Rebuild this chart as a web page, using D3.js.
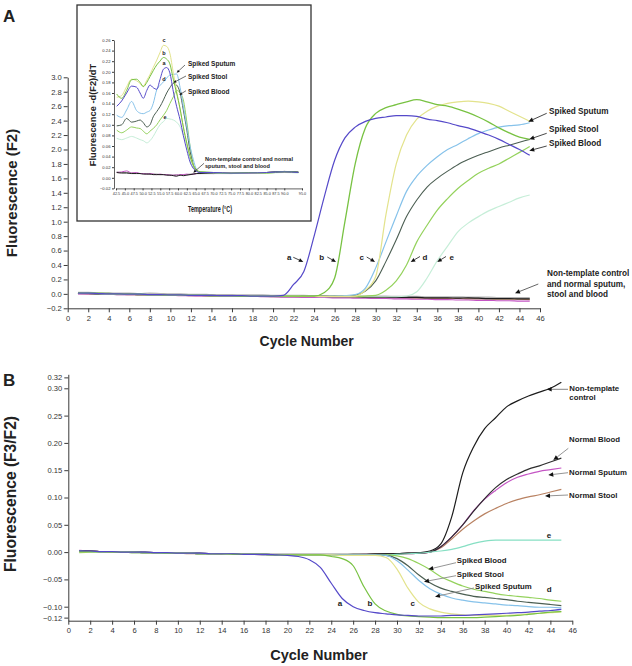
<!DOCTYPE html>
<html><head><meta charset="utf-8">
<script src="https://cdn.jsdelivr.net/npm/d3@7"></script>
<style>
html,body{margin:0;padding:0;background:#fff;}
svg{display:block;font-family:"Liberation Sans",Arial,Helvetica,sans-serif;}
</style></head><body>
<svg id="chart" width="632" height="666"></svg>
<script>
// ---------------- DATA ----------------
const cycles = [1,2,3,4,5,6,7,8,9,10,11,12,13,14,15,16,17,18,19,20,21,22,23,24,25,26,27,28,29,30,31,32,33,34,35,36,37,38,39,40,41,42,43,44,45];

// Panel A: Fluorescence (F2)
const aF2_ntc     = [0.005,0.005,0.0,0.0,-0.005,-0.005,-0.01,-0.01,-0.01,-0.015,-0.015,-0.02,-0.02,-0.02,-0.025,-0.025,-0.025,-0.03,-0.03,-0.03,-0.03,-0.035,-0.035,-0.035,-0.035,-0.04,-0.04,-0.04,-0.045,-0.045,-0.045,-0.05,-0.05,-0.05,-0.055,-0.055,-0.055,-0.06,-0.055,-0.06,-0.065,-0.065,-0.065,-0.07,-0.07];
const aF2_nBlood  = [0.01,0.01,0.005,0.005,0.0,0.0,-0.005,0.0,-0.005,-0.01,-0.01,-0.015,-0.015,-0.02,-0.02,-0.02,-0.025,-0.025,-0.025,-0.03,-0.03,-0.03,-0.03,-0.035,-0.035,-0.035,-0.035,-0.04,-0.04,-0.04,-0.04,-0.045,-0.045,-0.045,-0.05,-0.05,-0.05,-0.05,-0.055,-0.055,-0.055,-0.06,-0.06,-0.06,-0.06];
const aF2_nSputum = [0.0,0.0,-0.005,-0.005,-0.01,-0.01,-0.015,-0.015,-0.02,-0.02,-0.025,-0.025,-0.03,-0.03,-0.03,-0.035,-0.035,-0.035,-0.04,-0.04,-0.045,-0.045,-0.05,-0.05,-0.05,-0.055,-0.055,-0.06,-0.06,-0.065,-0.065,-0.07,-0.07,-0.075,-0.075,-0.08,-0.08,-0.085,-0.085,-0.09,-0.09,-0.095,-0.095,-0.1,-0.1];
const aF2_nStool  = [0.005,0.0,0.0,-0.005,-0.005,-0.01,-0.01,-0.015,-0.015,-0.02,-0.02,-0.025,-0.025,-0.03,-0.03,-0.03,-0.035,-0.035,-0.035,-0.04,-0.04,-0.04,-0.045,-0.045,-0.045,-0.05,-0.05,-0.05,-0.05,-0.055,-0.055,-0.055,-0.06,-0.06,-0.06,-0.065,-0.065,-0.065,-0.07,-0.07,-0.07,-0.075,-0.075,-0.075,-0.08];
const aF2_a  = [0.01,0.01,0.005,0,0,-0.005,-0.005,-0.01,-0.01,-0.015,-0.015,-0.02,-0.02,-0.02,-0.025,-0.025,-0.025,-0.03,-0.03,-0.03,-0.02,0.13,0.31,0.8,1.35,1.85,2.16,2.31,2.39,2.43,2.45,2.47,2.47,2.46,2.42,2.40,2.37,2.33,2.3,2.25,2.2,2.14,2.07,2.0,1.92];
const aF2_b  = [0.015,0.01,0.01,0.005,0,0,-0.005,-0.01,-0.01,-0.015,-0.015,-0.02,-0.02,-0.025,-0.025,-0.025,-0.03,-0.03,-0.03,-0.03,-0.03,-0.03,-0.03,-0.03,0.02,0.22,1.0,1.8,2.3,2.5,2.58,2.62,2.66,2.69,2.66,2.62,2.6,2.56,2.51,2.45,2.38,2.3,2.23,2.17,2.14];
const aF2_c  = [0.01,0.005,0.005,0,0,-0.005,-0.01,-0.01,-0.01,-0.015,-0.015,-0.02,-0.02,-0.02,-0.025,-0.025,-0.025,-0.03,-0.03,-0.03,-0.03,-0.03,-0.035,-0.035,-0.035,-0.035,-0.035,-0.03,0.05,0.24,1.1,1.8,2.2,2.42,2.53,2.6,2.64,2.66,2.67,2.66,2.64,2.6,2.53,2.46,2.39];
const aF2_sputum = [0.01,0.01,0.005,0,0,-0.005,-0.005,-0.01,-0.01,-0.015,-0.015,-0.02,-0.02,-0.02,-0.025,-0.025,-0.025,-0.03,-0.03,-0.03,-0.03,-0.03,-0.035,-0.035,-0.035,-0.03,-0.025,-0.01,0.08,0.36,0.72,1.08,1.42,1.63,1.78,1.9,2.0,2.07,2.15,2.22,2.27,2.31,2.33,2.34,2.37];
const aF2_stool  = [0.005,0.005,0,0,-0.005,-0.005,-0.01,-0.01,-0.015,-0.015,-0.02,-0.02,-0.02,-0.025,-0.025,-0.025,-0.03,-0.03,-0.03,-0.03,-0.035,-0.035,-0.035,-0.035,-0.035,-0.03,-0.03,-0.02,0.04,0.18,0.45,0.75,1.07,1.3,1.48,1.6,1.7,1.79,1.86,1.92,1.97,2.02,2.06,2.1,2.14];
const aF2_blood  = [0.01,0.01,0.005,0.005,0,0,-0.005,-0.01,-0.01,-0.015,-0.015,-0.02,-0.02,-0.025,-0.025,-0.025,-0.03,-0.03,-0.03,-0.03,-0.03,-0.035,-0.035,-0.035,-0.035,-0.035,-0.035,-0.035,-0.03,-0.02,0.05,0.18,0.4,0.72,0.95,1.16,1.32,1.46,1.57,1.67,1.74,1.8,1.88,1.96,2.04];
const aF2_e  = [0.005,0.005,0,0,-0.005,-0.005,-0.01,-0.01,-0.015,-0.015,-0.02,-0.02,-0.02,-0.025,-0.025,-0.025,-0.03,-0.03,-0.03,-0.03,-0.035,-0.035,-0.035,-0.035,-0.04,-0.04,-0.04,-0.04,-0.04,-0.04,-0.04,-0.04,-0.03,0.03,0.22,0.46,0.66,0.86,0.98,1.07,1.15,1.21,1.27,1.33,1.37];

// Panel B: Fluorescence (F3/F2)
const bR_ntc     = [0.002,0.002,0.001,0.001,0,0,0,-0.001,-0.001,-0.002,-0.002,-0.002,-0.003,-0.003,-0.003,-0.004,-0.004,-0.004,-0.004,-0.004,-0.004,-0.004,-0.004,-0.004,-0.004,-0.004,-0.004,-0.003,-0.003,-0.003,-0.002,-0.001,0.002,0.015,0.065,0.145,0.193,0.226,0.246,0.266,0.277,0.286,0.293,0.3,0.311];
const bR_nBlood  = [0.002,0.001,0.001,0.0,0,0,-0.001,-0.001,-0.001,-0.002,-0.002,-0.003,-0.003,-0.003,-0.004,-0.004,-0.004,-0.004,-0.005,-0.005,-0.005,-0.005,-0.005,-0.005,-0.005,-0.004,-0.004,-0.004,-0.003,-0.003,-0.002,-0.002,0.0,0.01,0.028,0.05,0.075,0.098,0.118,0.133,0.143,0.152,0.158,0.165,0.172];
const bR_nSputum = [0.003,0.002,0.001,0.001,0,0,-0.001,-0.001,-0.002,-0.002,-0.002,-0.003,-0.003,-0.003,-0.004,-0.004,-0.004,-0.005,-0.005,-0.005,-0.005,-0.005,-0.005,-0.005,-0.005,-0.005,-0.004,-0.004,-0.004,-0.003,-0.003,-0.002,0.0,0.01,0.028,0.05,0.076,0.097,0.113,0.127,0.137,0.143,0.148,0.151,0.154];
const bR_nStool  = [0.002,0.002,0.001,0.0,0,-0.001,-0.001,-0.001,-0.002,-0.002,-0.003,-0.003,-0.003,-0.004,-0.004,-0.004,-0.004,-0.005,-0.005,-0.005,-0.005,-0.005,-0.005,-0.005,-0.005,-0.005,-0.005,-0.004,-0.004,-0.004,-0.003,-0.002,0.0,0.008,0.024,0.042,0.057,0.07,0.08,0.089,0.096,0.101,0.105,0.11,0.115];
const bR_e       = [0.001,0.001,0.0,0.0,0,-0.001,-0.001,-0.001,-0.002,-0.002,-0.002,-0.003,-0.003,-0.003,-0.004,-0.004,-0.004,-0.005,-0.005,-0.005,-0.005,-0.005,-0.005,-0.006,-0.006,-0.006,-0.006,-0.005,-0.005,-0.004,-0.003,-0.002,0.0,0.002,0.005,0.01,0.016,0.02,0.022,0.022,0.022,0.022,0.022,0.022,0.022];
const bR_a  = [0.002,0.002,0.001,0.001,0,0,0,-0.001,-0.001,-0.002,-0.002,-0.002,-0.003,-0.003,-0.003,-0.004,-0.004,-0.004,-0.005,-0.006,-0.008,-0.014,-0.028,-0.057,-0.085,-0.1,-0.107,-0.111,-0.113,-0.115,-0.116,-0.117,-0.117,-0.117,-0.116,-0.116,-0.115,-0.114,-0.113,-0.112,-0.111,-0.11,-0.108,-0.107,-0.105];
const bR_b  = [0.001,0.001,0.001,0.0,0,0,-0.001,-0.001,-0.002,-0.002,-0.002,-0.003,-0.003,-0.003,-0.004,-0.004,-0.004,-0.004,-0.005,-0.005,-0.005,-0.005,-0.005,-0.008,-0.012,-0.025,-0.064,-0.095,-0.108,-0.114,-0.117,-0.118,-0.119,-0.12,-0.12,-0.12,-0.12,-0.119,-0.118,-0.117,-0.116,-0.114,-0.112,-0.11,-0.109];
const bR_c  = [0.001,0.001,0.001,0.0,0,0,-0.001,-0.001,-0.001,-0.002,-0.002,-0.003,-0.003,-0.003,-0.004,-0.004,-0.004,-0.004,-0.005,-0.005,-0.005,-0.005,-0.005,-0.005,-0.006,-0.006,-0.006,-0.006,-0.01,-0.031,-0.066,-0.092,-0.104,-0.11,-0.113,-0.115,-0.116,-0.116,-0.116,-0.116,-0.115,-0.113,-0.112,-0.111,-0.109];
const bR_sputum = [0.002,0.001,0.001,0.0,0,0,-0.001,-0.001,-0.002,-0.002,-0.002,-0.003,-0.003,-0.003,-0.004,-0.004,-0.004,-0.004,-0.005,-0.005,-0.005,-0.005,-0.005,-0.005,-0.005,-0.005,-0.005,-0.005,-0.006,-0.016,-0.033,-0.052,-0.067,-0.077,-0.084,-0.088,-0.091,-0.093,-0.095,-0.097,-0.098,-0.1,-0.101,-0.101,-0.102];
const bR_stool  = [0.002,0.002,0.001,0.0,0,0,-0.001,-0.001,-0.001,-0.002,-0.002,-0.003,-0.003,-0.003,-0.003,-0.004,-0.004,-0.004,-0.005,-0.005,-0.005,-0.005,-0.005,-0.005,-0.005,-0.005,-0.005,-0.005,-0.006,-0.012,-0.025,-0.042,-0.056,-0.066,-0.072,-0.077,-0.081,-0.083,-0.085,-0.087,-0.09,-0.092,-0.094,-0.096,-0.098];
const bR_blood  = [-0.001,0.0,0.0,0.0,0,-0.001,-0.001,-0.001,-0.002,-0.002,-0.002,-0.003,-0.003,-0.003,-0.004,-0.004,-0.004,-0.004,-0.005,-0.005,-0.005,-0.005,-0.005,-0.005,-0.005,-0.005,-0.005,-0.005,-0.005,-0.007,-0.012,-0.021,-0.032,-0.045,-0.054,-0.062,-0.068,-0.072,-0.076,-0.079,-0.081,-0.083,-0.085,-0.088,-0.09];

// Inset: melting curves -d(F2)/dT
const tempsI = [42.7,44.1,45.5,46.9,48.3,49.3,50.2,51.2,52.1,53.0,54.0,54.9,55.9,56.8,57.7,58.7,59.6,60.6,61.5,62.5,63.4,64.3,65.3,66.2,70,75,80,85,90,94];
const mI_b  = [0.158,0.150,0.165,0.185,0.186,0.180,0.172,0.180,0.191,0.202,0.213,0.220,0.227,0.224,0.215,0.185,0.160,0.130,0.096,0.065,0.040,0.024,0.015,0.0115,0.010,0.009,0.010,0.009,0.011,0.010];
const mI_c  = [0.152,0.155,0.172,0.186,0.183,0.178,0.173,0.184,0.195,0.208,0.222,0.236,0.250,0.248,0.235,0.197,0.165,0.128,0.096,0.065,0.042,0.024,0.014,0.011,0.010,0.010,0.009,0.010,0.010,0.010];
const mI_a  = [0.135,0.145,0.160,0.173,0.171,0.160,0.150,0.165,0.175,0.170,0.167,0.185,0.205,0.208,0.198,0.162,0.135,0.109,0.080,0.052,0.030,0.018,0.012,0.010,0.010,0.009,0.009,0.010,0.011,0.010];
const mI_sputum = [0.118,0.114,0.128,0.144,0.127,0.122,0.121,0.124,0.127,0.140,0.166,0.174,0.181,0.188,0.194,0.195,0.196,0.170,0.135,0.096,0.060,0.035,0.015,0.011,0.010,0.009,0.010,0.010,0.011,0.010];
const mI_stool  = [0.098,0.100,0.112,0.105,0.107,0.109,0.104,0.096,0.100,0.115,0.125,0.134,0.147,0.160,0.170,0.178,0.175,0.160,0.128,0.090,0.050,0.024,0.013,0.010,0.010,0.009,0.010,0.010,0.012,0.011];
const mI_blood  = [0.090,0.085,0.090,0.096,0.094,0.093,0.088,0.083,0.088,0.093,0.100,0.109,0.118,0.127,0.140,0.153,0.165,0.160,0.147,0.105,0.060,0.027,0.014,0.011,0.010,0.009,0.010,0.009,0.011,0.010];
const mI_e  = [0.0745,0.072,0.075,0.078,0.075,0.072,0.070,0.066,0.070,0.078,0.090,0.100,0.106,0.112,0.111,0.109,0.105,0.096,0.080,0.062,0.033,0.020,0.013,0.010,0.009,0.008,0.009,0.009,0.010,0.009];
const mI_ntc    = [0.010,0.009,0.009,0.008,0.008,0.008,0.007,0.007,0.007,0.006,0.006,0.006,0.006,0.005,0.005,0.004,0.003,0.005,0.004,0.005,0.006,0.007,0.008,0.008,0.008,0.009,0.009,0.010,0.012,0.010];
const mI_nSputum= [0.010,0.011,0.013,0.009,0.010,0.008,0.008,0.007,0.008,0.007,0.006,0.007,0.006,0.006,0.005,0.005,0.005,0.006,0.006,0.007,0.006,0.007,0.008,0.009,0.008,0.008,0.009,0.010,0.011,0.010];
const mI_nBlood = [0.011,0.010,0.010,0.009,0.009,0.008,0.008,0.008,0.007,0.007,0.007,0.006,0.006,0.006,0.005,0.005,0.006,0.005,0.006,0.006,0.007,0.007,0.008,0.008,0.009,0.009,0.009,0.010,0.011,0.011];

// Tick labels
const xTicksCycle = [0,2,4,6,8,10,12,14,16,18,20,22,24,26,28,30,32,34,36,38,40,42,44,46];
const yTicksA = [-0.2,0.0,0.2,0.4,0.6,0.8,1.0,1.2,1.4,1.6,1.8,2.0,2.2,2.4,2.6,2.8,3.0];
const yTicksB = [-0.12,-0.10,-0.05,0.00,0.05,0.10,0.15,0.20,0.25,0.30,0.32];
const yTicksI = [-0.02,0.00,0.02,0.04,0.06,0.08,0.10,0.12,0.14,0.16,0.18,0.20,0.22,0.24,0.26];
const xTicksI = [42.5,45,47.5,50,52.5,55,57.5,60,62.5,65,67.5,70,72.5,75,77.5,80,82.5,85,87.5,90,95];

// ---------------- STYLE ----------------
const C = {
  a:"#5549c9", b:"#78c242", c:"#e3e38c", sputum:"#86c2ea", stool:"#4b5e52",
  blood:"#94d25c", eA:"#c6eed8", eB:"#86dfc3", ntc:"#1c1c1c", nBloodA:"#b4b4b4",
  nBloodB:"#2e2e2e", nSputum:"#c455c4", nStool:"#b98262"
};
const txt = "#222", axisCol = "#3a3a3a";

const svg = d3.select("#chart");

// ---------------- SCALES ----------------
const xA = d3.scaleLinear().domain([0,46]).range([67.7,540]);
const yA = d3.scaleLinear().domain([-0.2,3.0]).range([308.3,77.3]);
const xB = d3.scaleLinear().domain([0,46]).range([68.3,572.3]);
const yB = d3.scaleLinear().domain([-0.10,0.30]).range([606.7,388.3]);
yB.domain([yB.invert(620.7), yB.invert(374.3)]).range([620.7,374.3]);
const xI = d3.scaleLinear().domain([42.5,95]).range([116,302]);
const yI = d3.scaleLinear().domain([-0.02,0.26]).range([188.4,40]);

function styleAxis(g, fs){
  g.select(".domain").attr("stroke",axisCol).attr("stroke-width",1);
  g.selectAll(".tick line").attr("stroke",axisCol);
  g.selectAll(".tick text").attr("fill","#333").style("font-size",fs+"px").style("font-family","'Liberation Sans',Arial,sans-serif");
}

// ---------------- PANEL A ----------------
const gA = svg.append("g");
gA.append("g").attr("transform",`translate(0,${yA(-0.2)})`)
  .call(d3.axisBottom(xA).tickValues(xTicksCycle).tickSize(4).tickSizeOuter(0).tickPadding(3).tickFormat(d3.format("d")))
  .call(g=>styleAxis(g,7.6));
gA.append("g").attr("transform",`translate(${xA(0)},0)`)
  .call(d3.axisLeft(yA).tickValues(yTicksA).tickSize(4).tickSizeOuter(0).tickPadding(2).tickFormat(d3.format(".1f")))
  .call(g=>styleAxis(g,7.6));

const lineA = d3.line().x((d,i)=>xA(cycles[i])).y(d=>yA(d)).curve(d3.curveMonotoneX);
const seriesA = [
  {v:aF2_nBlood, c:C.nBloodA, w:2.6},
  {v:aF2_nStool, c:C.nStool, w:1.1},
  {v:aF2_nSputum, c:C.nSputum, w:1.1},
  {v:aF2_ntc, c:C.ntc, w:1.2},
  {v:aF2_e, c:C.eA, w:1.2},
  {v:aF2_blood, c:C.blood, w:1.2},
  {v:aF2_stool, c:C.stool, w:1.1},
  {v:aF2_sputum, c:C.sputum, w:1.2},
  {v:aF2_c, c:C.c, w:1.2},
  {v:aF2_b, c:C.b, w:1.3},
  {v:aF2_a, c:C.a, w:1.2}
];
gA.selectAll("path.sa").data(seriesA).join("path").attr("class","sa")
  .attr("d",d=>lineA(d.v)).attr("fill","none").attr("stroke",d=>d.c).attr("stroke-width",d=>d.w);

// ---------------- INSET ----------------
const gI = svg.append("g");
gI.append("rect").attr("x",77).attr("y",5).attr("width",234).attr("height",216)
  .attr("fill","#fff").attr("stroke","#333").attr("stroke-width",1.3);
gI.append("g").attr("transform",`translate(0,${yI(-0.02)})`)
  .call(d3.axisBottom(xI).tickValues(xTicksI).tickSize(2).tickSizeOuter(0).tickPadding(1.5).tickFormat(d3.format(".1f")))
  .call(g=>styleAxis(g,3.8));
gI.append("g").attr("transform",`translate(${xI(42.5)-2},0)`)
  .call(d3.axisLeft(yI).tickValues(yTicksI).tickSize(2).tickSizeOuter(0).tickPadding(1.5).tickFormat(d3.format(".2f")))
  .call(g=>styleAxis(g,4.2));
gI.selectAll("path.domain").attr("stroke-width",0.8);
const lineI = d3.line().x((d,i)=>xI(tempsI[i])).y(d=>yI(d)).curve(d3.curveMonotoneX);
const seriesI = [
  {v:mI_nBlood, c:"#9a9a9a"}, {v:mI_nSputum, c:C.nSputum}, {v:mI_ntc, c:C.ntc},
  {v:mI_e, c:C.eA}, {v:mI_blood, c:C.blood}, {v:mI_stool, c:C.stool},
  {v:mI_sputum, c:C.sputum}, {v:mI_c, c:C.c}, {v:mI_b, c:C.b}, {v:mI_a, c:C.a}
];
gI.selectAll("path.si").data(seriesI).join("path").attr("class","si")
  .attr("d",d=>lineI(d.v)).attr("fill","none").attr("stroke",d=>d.c).attr("stroke-width",1);

// ---------------- PANEL B ----------------
const gB = svg.append("g");
gB.append("g").attr("transform",`translate(0,${yB.range()[0]})`)
  .call(d3.axisBottom(xB).tickValues(xTicksCycle).tickSize(4).tickSizeOuter(0).tickPadding(3).tickFormat(d3.format("d")))
  .call(g=>styleAxis(g,7.6));
gB.append("g").attr("transform",`translate(${xB(0)},0)`)
  .call(d3.axisLeft(yB).tickValues(yTicksB).tickSize(4).tickSizeOuter(0).tickPadding(2).tickFormat(d3.format(".2f")))
  .call(g=>styleAxis(g,7.6));
const lineB = d3.line().x((d,i)=>xB(cycles[i])).y(d=>yB(d)).curve(d3.curveMonotoneX);
const seriesB = [
  {v:bR_nStool, c:C.nStool}, {v:bR_nSputum, c:C.nSputum}, {v:bR_nBlood, c:C.nBloodB},
  {v:bR_ntc, c:C.ntc}, {v:bR_e, c:C.eB},
  {v:bR_blood, c:C.blood}, {v:bR_stool, c:C.stool}, {v:bR_sputum, c:C.sputum},
  {v:bR_c, c:C.c}, {v:bR_b, c:C.b}, {v:bR_a, c:C.a}
];
gB.selectAll("path.sb").data(seriesB).join("path").attr("class","sb")
  .attr("d",d=>lineB(d.v)).attr("fill","none").attr("stroke",d=>d.c).attr("stroke-width",1.2);

// ---------------- TEXT & ANNOTATIONS ----------------
function label(x,y,t,fs,opts={}){
  const el = svg.append("text").attr("x",x).attr("y",y).text(t)
    .attr("font-size",fs).attr("font-weight",opts.weight||"bold").attr("fill",opts.fill||txt)
    .attr("text-anchor",opts.anchor||"start");
  if(opts.rotate) el.attr("transform",`rotate(-90,${x},${y})`);
  if(opts.len) el.attr("textLength",opts.len).attr("lengthAdjust","spacingAndGlyphs");
  return el;
}
function arrow(x1,y1,x2,y2,lineCol,head){
  const ang = Math.atan2(y2-y1,x2-x1);
  const L = head, W = head*0.45;
  const bx = x2 - L*Math.cos(ang), by = y2 - L*Math.sin(ang);
  svg.append("line").attr("x1",x1).attr("y1",y1).attr("x2",bx).attr("y2",by)
    .attr("stroke",lineCol).attr("stroke-width",head>4?0.9:0.7);
  const p = [[x2,y2],[bx+W*Math.sin(ang),by-W*Math.cos(ang)],[bx-W*Math.sin(ang),by+W*Math.cos(ang)]];
  svg.append("path").attr("d","M"+p.map(q=>q.join(",")).join("L")+"Z").attr("fill","#111");
}

// Panel letters and titles
label(3,22,"A",17);
label(3,386,"B",17);
label(16.5,193,"Fluorescence (F2)",15,{rotate:true,anchor:"middle"});
label(16,494,"Fluorescence (F3/F2)",15.6,{rotate:true,anchor:"middle"});
label(306.7,346,"Cycle Number",14,{anchor:"middle"});
label(319,660,"Cycle Number",14.5,{anchor:"middle"});

// Inset titles & labels
label(96,115,"Fluorescence -d(F2)/dT",9.3,{rotate:true,anchor:"middle"});
label(210,212,"Temperature (\u00B0C)",8.5,{anchor:"middle",len:44});
label(188,65.5,"Spiked Sputum",6.5);
label(188,79,"Spiked Stool",6.5);
label(188,94,"Spiked Blood",6.5);
label(205,161.3,"Non-template control and normal",5.6);
label(205,167.8,"sputum, stool and blood",5.6);
[["c",164,42],["b",164,55.3],["a",164,65.3],["d",164,81],["e",165,119.3]].forEach(d=>label(d[1],d[2],d[0],5.5,{anchor:"middle"}));
arrow(185,65,176.7,72.7,"#333",3);
arrow(186,76,173.3,82.7,"#333",3);
arrow(186,90.7,179.3,95,"#333",3);
arrow(204,163.3,193.3,172.7,"#333",3);

// Panel A labels
label(549,113.5,"Spiked Sputum",8.2);
label(549,132,"Spiked Stool",8.2);
label(549,145.7,"Spiked Blood",8.2);
label(547,276.2,"Non-template control",8.2);
label(547,286.5,"and normal sputum,",8.2);
label(547,297,"stool and blood",8.2);
arrow(546.7,113.3,528.3,121.7,"#333",5);
arrow(546.7,133.3,529.3,139.3,"#333",5);
arrow(546.7,146,529.3,150.7,"#333",5);
arrow(538.3,284,515,293.3,"#555",5);
[["a",289.3],["b",321.7],["c",361.7],["d",425],["e",451.7]].forEach(d=>label(d[1],259.7,d[0],8,{anchor:"middle"}));
arrow(293.3,257.3,303.3,261.9,"#333",4.5);
arrow(327.3,257,336,261.9,"#333",4.5);
arrow(366.7,257,375,261.9,"#333",4.5);
arrow(420,256.5,410.7,261.9,"#333",4.5);
arrow(446,256.5,437.3,261.9,"#333",4.5);

// Panel B labels
label(569.3,391,"Non-template",7.8);
label(569.3,400,"control",7.8);
label(569,441.7,"Normal Blood",7.8);
label(569,475.4,"Normal Sputum",7.8);
label(569,497.7,"Normal Stool",7.8);
label(456.7,563.4,"Spiked Blood",7.8);
label(456.7,576.7,"Spiked Stool",7.8);
label(475,589.4,"Spiked Sputum",7.8);
[["e",549,537.7],["d",549.3,592],["a",340,606],["b",370,606],["c",412.7,606]].forEach(d=>label(d[1],d[2],d[0],8,{anchor:"middle"}));
arrow(568,389.3,546.7,389.3,"#777",5);
arrow(568.3,448.3,553.3,460,"#888",5);
arrow(568,472.7,548.3,475,"#888",5);
arrow(568,495,545,496,"#888",5);
arrow(456,562.7,428.3,569.3,"#888",5);
arrow(456,575.7,424,581.7,"#888",5);
arrow(474,588,435,596.7,"#888",5);
</script>
</body></html>
